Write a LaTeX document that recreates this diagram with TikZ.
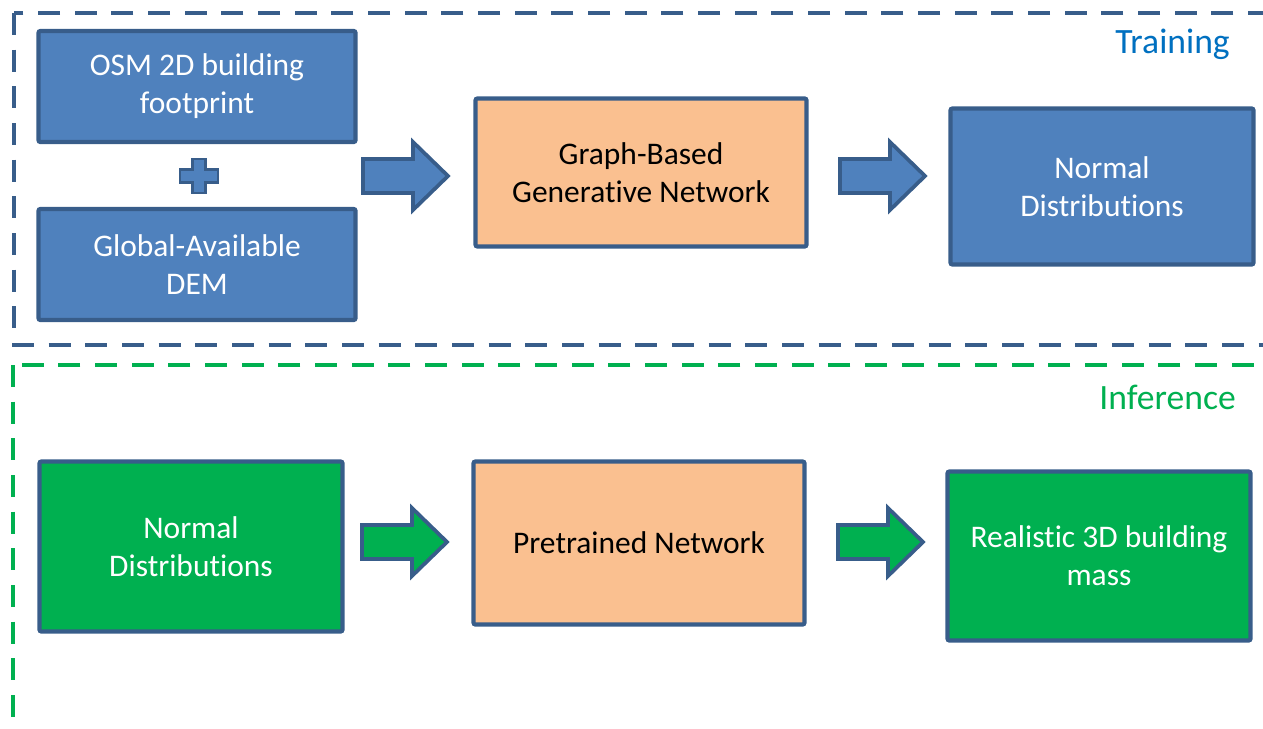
\documentclass[tikz,border=0pt]{standalone}
\usepackage{fontspec}
\setmainfont{Carlito}[Ligatures=NoCommon]
\usetikzlibrary{positioning}

\definecolor{boxblue}{RGB}{79,129,189}
\definecolor{edgeblue}{RGB}{56,93,138}
\definecolor{peach}{RGB}{250,192,144}
\definecolor{infgreen}{RGB}{0,176,80}
\definecolor{trainblue}{RGB}{0,112,192}

\tikzset{
  box/.style={draw=edgeblue,line width=3.2pt,rounded corners=1.5pt,align=center,
    inner sep=0pt,font=\fontsize{23.6}{28.5}\selectfont},
  bluebox/.style={box,fill=boxblue,text=white},
  greenbox/.style={box,fill=infgreen,text=white},
  netbox/.style={box,fill=peach,text=black},
  barrow/.style={draw=edgeblue,line width=2.8pt,line join=miter},
  phase/.style={line width=3.2pt,dash pattern=on 16.5pt off 11pt},
  tag/.style={anchor=east,inner sep=0pt,font=\fontsize{26.7}{32}\selectfont}
}

% block arrow, left end of the shaft at #1
\newcommand{\blockarrow}[2]{%
  \draw[barrow,fill=#2,shift={(#1)}] (0,-17) -- (50,-17) -- (50,-34) -- (85,0)
    -- (50,34) -- (50,17) -- (0,17) -- cycle;}

\begin{document}
\begin{tikzpicture}[x=0.75pt,y=-0.75pt]
  \useasboundingbox (0,0) rectangle (1263,728);
  \clip (0,0) rectangle (1263,728);
  % phase frames
  \draw[phase,edgeblue] (14,13) rectangle (1300,345);
  \draw[phase,infgreen] (13,365) rectangle (1300,780);
  \node[tag,text=trainblue] (train) at (1230,44) {Training};
  \node[tag,text=infgreen] (infer) at (1236,397) {Inference};

  % training
  \node[bluebox,minimum width=237.75pt,minimum height=83.25pt] (osm) at (197,86.5)
    {OSM 2D building\\footprint};
  \node[bluebox,minimum width=237.75pt,minimum height=83.25pt] (dem) at (197,264.5)
    {Global-Available\\DEM};
  \draw[draw=edgeblue,fill=boxblue,line width=2.2pt,shift={(199,176)}]
    (-6.5,-17) -- (6.5,-17) -- (6.5,-6.5) -- (19,-6.5) -- (19,6.5) -- (6.5,6.5)
    -- (6.5,17) -- (-6.5,17) -- (-6.5,6.5) -- (-19,6.5) -- (-19,-6.5) -- (-6.5,-6.5) -- cycle;
  \node[netbox,minimum width=248.25pt,minimum height=111pt] (gen) at (641,172.5)
    {Graph-Based\\Generative Network};
  \node[bluebox,minimum width=227.25pt,minimum height=117pt] (dist) at (1102,186.5)
    {Normal\\Distributions};
  \coordinate (a1) at (363,176);
  \coordinate (a2) at (840,176);
  \blockarrow{a1}{boxblue}
  \blockarrow{a2}{boxblue}

  % inference
  \node[greenbox,minimum width=227.25pt,minimum height=127.5pt] (sample) at (191,546.5)
    {Normal\\Distributions};
  \node[netbox,minimum width=248.25pt,minimum height=122.25pt] (pre) at (639,543)
    {Pretrained Network};
  \node[greenbox,minimum width=227.25pt,minimum height=126.75pt] (mass) at (1099,556)
    {Realistic 3D building\\mass};
  \coordinate (a3) at (362,542);
  \coordinate (a4) at (838,542);
  \blockarrow{a3}{infgreen}
  \blockarrow{a4}{infgreen}
\end{tikzpicture}
\end{document}
